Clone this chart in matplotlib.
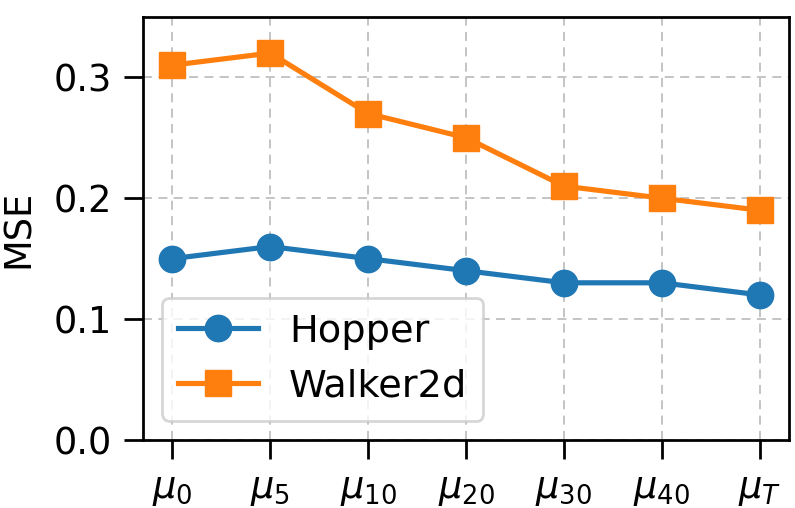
import matplotlib
matplotlib.use("Agg")
import matplotlib.pyplot as plt

labels = [r'$\mu_0$', r'$\mu_5$', r'$\mu_{10}$', r'$\mu_{20}$', r'$\mu_{30}$', r'$\mu_{40}$', r'$\mu_T$']
hopper = [0.15, 0.16, 0.15, 0.14, 0.13, 0.13, 0.12]
walker = [0.31, 0.32, 0.27, 0.25, 0.21, 0.20, 0.19]

s = 2.48
fs = 26.5
fig = plt.figure(figsize=(7.95, 5.08), dpi=100)
ax = fig.add_axes([0.1799, 0.1339, 0.8126, 0.833])
x = list(range(len(labels)))
ax.plot(x, hopper, marker='o', color='#1f77b4', lw=1.5 * s, ms=19, label='Hopper')
ax.plot(x, walker, marker='s', color='#ff7f0e', lw=1.5 * s, ms=19, label='Walker2d')
ax.set_xticks(x)
ax.set_xticklabels(labels)
ax.set_ylim(0, 0.35)
ax.set_yticks([0.0, 0.1, 0.2, 0.3])
ax.set_ylabel('MSE', fontsize=fs, labelpad=12)
ax.tick_params(labelsize=fs, length=5.4 * s, width=0.8 * s, pad=3.5 * s)
for sp in ax.spines.values():
    sp.set_linewidth(0.8 * s)
ax.grid(True, linestyle=(0, (5, 3.5)), color='#b0b0b0', alpha=0.8, lw=1.3)
leg = ax.legend(loc='lower left', fontsize=27.5, borderaxespad=0.5, borderpad=0.42,
                handlelength=2.1)
leg.get_frame().set_linewidth(0.8 * s)
fig.savefig('out.png', dpi=100)
